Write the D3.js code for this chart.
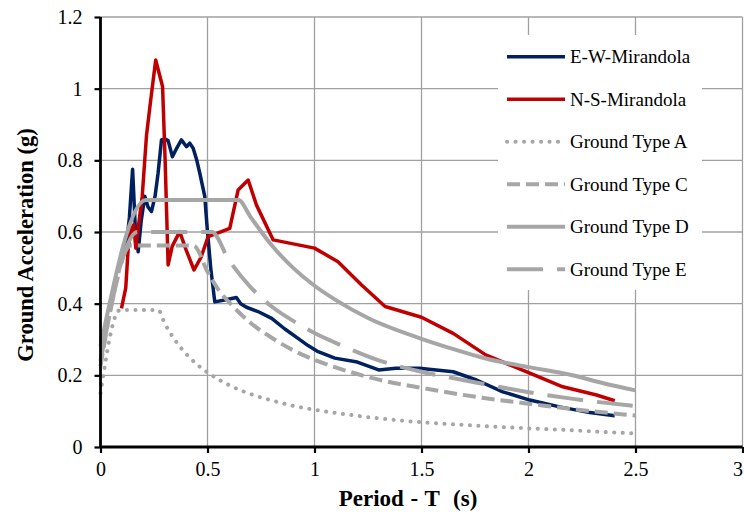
<!DOCTYPE html>
<html>
<head>
<meta charset="utf-8">
<script src="https://cdn.jsdelivr.net/npm/d3@7"></script>
<style>
  body { margin: 0; background: #fff; }
  svg { display: block; font-family: "Liberation Serif", "DejaVu Serif", serif; }
</style>
</head>
<body>
<svg id="svg" width="744" height="517"></svg>
<script>
// records (period s, acceleration g)
let ewT = [0.095,0.105,0.12,0.135,0.15,0.162,0.176,0.19,0.207,0.222,0.238,0.255,0.269,0.285,0.30,0.316,0.336,0.357,0.378,0.402,0.417,0.433,0.45,0.464,0.487,0.498,0.515,0.534,0.58,0.635,0.655,0.682,0.736,0.80,0.86,0.923,0.97,1.017,1.095,1.2,1.3,1.38,1.49,1.648,1.757,1.88,2.006,2.146,2.286,2.403];
let ewA = [0.535,0.545,0.56,0.64,0.775,0.62,0.545,0.63,0.70,0.67,0.657,0.70,0.764,0.857,0.86,0.855,0.81,0.835,0.857,0.838,0.848,0.834,0.80,0.764,0.70,0.615,0.50,0.405,0.41,0.417,0.40,0.39,0.378,0.359,0.33,0.303,0.283,0.266,0.248,0.237,0.215,0.22,0.22,0.21,0.187,0.154,0.131,0.112,0.096,0.087];

let nsT = [0.098,0.118,0.13,0.145,0.155,0.165,0.178,0.195,0.215,0.235,0.258,0.29,0.302,0.316,0.335,0.37,0.40,0.437,0.47,0.503,0.565,0.604,0.643,0.69,0.729,0.807,1.0,1.11,1.22,1.33,1.5,1.648,1.80,2.006,2.16,2.318,2.403];
let nsA = [0.387,0.444,0.56,0.61,0.62,0.555,0.62,0.70,0.87,0.97,1.08,1.006,0.80,0.508,0.56,0.601,0.55,0.494,0.53,0.587,0.601,0.61,0.717,0.745,0.675,0.578,0.555,0.517,0.452,0.392,0.362,0.317,0.257,0.206,0.168,0.145,0.129];

// code spectra
let aT = [0,0.09,0.27,0.3,0.35,0.4,0.45,0.5,0.6,0.7,0.8,0.9,1.0,1.2,1.4,1.6,1.8,2.0,2.2,2.35,2.5];
let aA = [0.15,0.382,0.382,0.345,0.297,0.26,0.231,0.208,0.173,0.148,0.13,0.115,0.104,0.087,0.074,0.065,0.058,0.052,0.047,0.042,0.038];

let cT = [0,0.143,0.435,0.5,0.55,0.62,0.7,0.8,0.9,1.0,1.12,1.3,1.5,1.8,2.0,2.2,2.5];
let cA = [0.225,0.562,0.562,0.489,0.44,0.392,0.347,0.305,0.27,0.243,0.218,0.188,0.165,0.136,0.121,0.106,0.088];

let dT = [0,0.212,0.645,0.7,0.8,0.9,1.0,1.1,1.25,1.5,1.65,1.8,2.0,2.2,2.35,2.5];
let dA = [0.28,0.689,0.689,0.643,0.563,0.50,0.45,0.41,0.36,0.302,0.273,0.247,0.223,0.201,0.178,0.158];

let eT = [0,0.173,0.52,0.6,0.7,0.8,0.92,1.0,1.14,1.3,1.5,1.73,2.0,2.2,2.5];
let eA = [0.24,0.60,0.60,0.522,0.447,0.392,0.345,0.318,0.28,0.242,0.21,0.183,0.153,0.135,0.114];

let xTicks = [0,0.5,1,1.5,2,2.5,3];
let yTicks = [0,0.2,0.4,0.6,0.8,1,1.2];

let series = [
	{name: "E-W-Mirandola", t: ewT, a: ewA, color: "#002060", dash: null, width: 3.5, smooth: false},
	{name: "N-S-Mirandola", t: nsT, a: nsA, color: "#C00000", dash: null, width: 3.5, smooth: false},
	{name: "Ground Type A", t: aT, a: aA, color: "#A6A6A6", dash: "0.1 8.4", width: 4, smooth: true, cap: "round"},
	{name: "Ground Type C", t: cT, a: cA, color: "#A6A6A6", dash: "13 6", width: 4, smooth: true},
	{name: "Ground Type D", t: dT, a: dA, color: "#A6A6A6", dash: null, width: 4, smooth: true},
	{name: "Ground Type E", t: eT, a: eA, color: "#A6A6A6", dash: "36 14", width: 4, smooth: true}
];

let svg = d3.select("#svg");
let padding = {top: 17, right: 1.5, bottom: 70, left: 100.5};
let plotArea = {
	width: 744 - padding.left - padding.right,
	height: 517 - padding.top - padding.bottom
};

let xScale = d3.scaleLinear().domain([0, 3]).range([0, plotArea.width]);
let yScale = d3.scaleLinear().domain([0, 1.2]).range([plotArea.height, 0]);

let plot = svg.append("g")
	.attr("transform", "translate(" + padding.left + "," + padding.top + ")");

// grid
let grid = plot.append("g").attr("class", "grid");
grid.selectAll("line.v").data(xTicks.slice(1)).enter()
	.append("line")
	.attr("x1", d => xScale(d)).attr("x2", d => xScale(d))
	.attr("y1", 0).attr("y2", plotArea.height)
	.attr("stroke", "#A0A0A0").attr("stroke-width", 1.3);
grid.selectAll("line.h").data(yTicks.slice(1)).enter()
	.append("line")
	.attr("x1", 0).attr("x2", plotArea.width)
	.attr("y1", d => yScale(d)).attr("y2", d => yScale(d))
	.attr("stroke", "#A0A0A0").attr("stroke-width", 1.3);

// curves
series.forEach(function(s) {
	let pts = s.t.map((t, i) => [t, s.a[i]]);
	let line = d3.line()
		.x(d => xScale(d[0]))
		.y(d => yScale(d[1]))
		.curve(s.smooth ? d3.curveMonotoneX : d3.curveLinear);
	plot.append("path")
		.datum(pts)
		.attr("d", line)
		.attr("fill", "none")
		.attr("stroke", s.color)
		.attr("stroke-width", s.width)
		.attr("stroke-linejoin", "round")
		.attr("stroke-linecap", s.cap || "butt")
		.attr("stroke-dasharray", s.dash);
});

// axes
let xAxis = plot.append("g")
	.attr("transform", "translate(0," + plotArea.height + ")")
	.call(d3.axisBottom(xScale).tickValues(xTicks).tickSize(6).tickPadding(9).tickFormat(d3.format("")));
let yAxis = plot.append("g")
	.call(d3.axisLeft(yScale).tickValues(yTicks).tickSize(6).tickPadding(12).tickFormat(d3.format("")));

[xAxis, yAxis].forEach(function(ax) {
	ax.select(".domain").attr("stroke", "#000").attr("stroke-width", 2.8);
	ax.selectAll(".tick line").attr("stroke", "#000").attr("stroke-width", 2.2);
	ax.selectAll(".tick text")
		.attr("fill", "#000")
		.style("font-family", "'Liberation Serif', serif")
		.style("font-size", "20px");
});
xAxis.select(".domain").attr("d", "M0,0H" + plotArea.width);
yAxis.select(".domain").attr("d", "M0," + plotArea.height + "V0");
// last label sits at the right edge, keep it inside
xAxis.selectAll(".tick text").filter(d => d === 3).attr("text-anchor", "end").attr("dx", "0");

// axis titles
svg.append("text")
	.attr("x", 408)
	.attr("y", 506)
	.attr("text-anchor", "middle")
	.style("font-size", "23px")
	.style("font-weight", "bold")
	.style("word-spacing", "1px")
	.attr("xml:space", "preserve")
	.text("Period - T  (s)");

svg.append("text")
	.attr("transform", "translate(33," + 245 + ") rotate(-90)")
	.attr("text-anchor", "middle")
	.style("font-size", "22.5px")
	.style("font-weight", "bold")
	.text("Ground Acceleration (g)");

// legend
let legend = svg.append("g").attr("transform", "translate(498,35)");
legend.append("rect")
	.attr("width", 204).attr("height", 255)
	.attr("fill", "#fff");

let item = legend.selectAll("g.item").data(series).enter()
	.append("g")
	.attr("transform", (d, i) => "translate(0," + (21.7 + i * 42.5) + ")");
item.append("line")
	.attr("x1", 9).attr("x2", 67)
	.attr("stroke", d => d.color)
	.attr("stroke-width", d => d.width)
	.attr("stroke-linecap", d => d.cap || "butt")
	.attr("stroke-dasharray", d => d.dash);
item.append("text")
	.attr("x", 72)
	.attr("dy", "0.35em")
	.style("font-size", "19px")
	.text(d => d.name);
</script>
</body>
</html>
